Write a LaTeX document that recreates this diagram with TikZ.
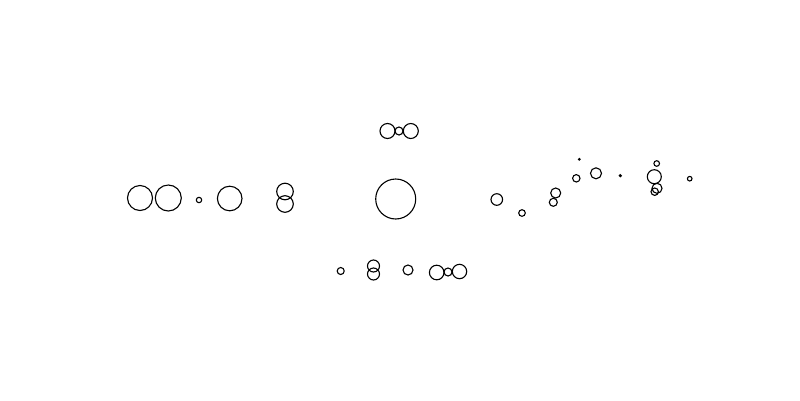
\documentclass[tikz,border=0pt]{standalone}
\begin{document}
\begin{tikzpicture}[x=1pt,y=-1pt,ring/.style={draw=black,line width=1.1pt}]
\useasboundingbox (0,0) rectangle (800,400);
% left group
\draw[ring] (140,198) circle (12.5);
\draw[ring] (168.3,198) circle (13);
\draw[ring] (199,200) circle (2.7);
\draw[ring] (229.7,198.5) circle (12.3);
\draw[ring] (285,191.5) circle (8.3);
\draw[ring] (285,204) circle (8.3);
% centre
\draw[ring] (395.7,199) circle (20);
\draw[ring] (387.5,131) circle (7.5);
\draw[ring] (399,131) circle (4);
\draw[ring] (410.8,131) circle (7.5);
% bottom
\draw[ring] (340.7,271) circle (3.5);
\draw[ring] (373.5,266) circle (6);
\draw[ring] (373.5,274) circle (6);
\draw[ring] (408,270) circle (5);
\draw[ring] (436.7,272.5) circle (7.3);
\draw[ring] (448,272) circle (4);
\draw[ring] (459.5,271.5) circle (7.2);
% right group
\draw[ring] (496.8,199.5) circle (5.8);
\draw[ring] (522,213) circle (3.3);
\draw[ring] (555.7,193) circle (5);
\draw[ring] (553.3,202.3) circle (4);
\draw[ring] (579.3,159.3) circle (0.8);
\draw[ring] (576.3,178.3) circle (3.7);
\draw[ring] (596,173.3) circle (5.5);
\draw[ring] (620.3,175.7) circle (1);
\draw[ring] (656.7,163.5) circle (2.8);
\draw[ring] (654.3,176.7) circle (7);
\draw[ring] (657,188.3) circle (5);
\draw[ring] (654.7,191.7) circle (3.7);
\draw[ring] (689.7,178.7) circle (2.3);
\end{tikzpicture}
\end{document}
